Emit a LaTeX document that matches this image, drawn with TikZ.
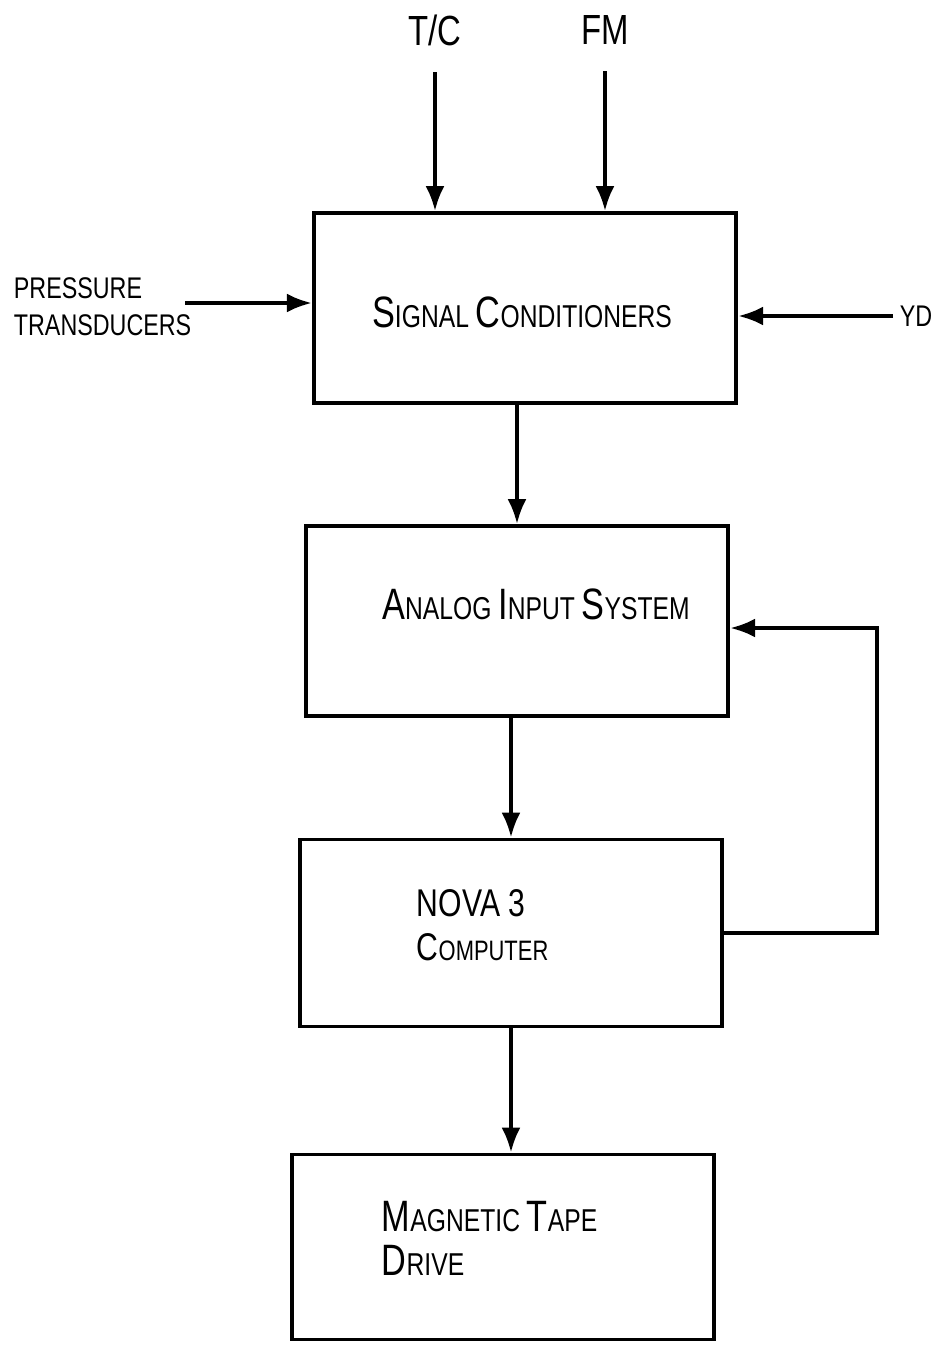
\documentclass[tikz,border=0pt]{standalone}
\usepackage{fontspec}
\setmainfont[FakeStretch=0.78]{Liberation Sans}
\usetikzlibrary{arrows.meta,calc}
\newcommand\bigc[1]{{\fontsize{25}{28}\selectfont #1}}

\begin{document}
\begin{tikzpicture}[
    x=0.02cm, y=-0.02cm,
    line width=2.2pt, >={Latex[length=5mm,width=3.8mm]},
    font=\fontsize{18}{25}\selectfont,
    box/.style={draw, minimum width=8.45cm, minimum height=3.8cm, inner sep=0pt},
    lbl/.style={font=\fontsize{17}{21}\selectfont, inner sep=0pt, align=left},
    flow/.style={->}]
  \useasboundingbox (0,0) rectangle (945,1346);
  % main chain of blocks
  \node[box] (sig) at (525,308) {};
  \node[box] (ais) at (517,621) {};
  \node[box, minimum height=3.74cm] (cpu) at (511,933) {};
  \node[box, minimum height=3.7cm] (tape) at (503,1247) {};
  \node[inner sep=0pt] (sigt) at (522,312) {\bigc{S}IGNAL\ \bigc{C}ONDITIONERS};
  \node[inner sep=0pt] (aist) at (536,604) {\bigc{A}NALOG\ \bigc{I}NPUT\ \bigc{S}YSTEM};
  \node[inner sep=0pt, align=left, anchor=west, font=\fontsize{16}{25}\selectfont] (cput) at (415,925)
    {{\fontsize{22}{25}\selectfont NOVA 3}\\{\fontsize{22}{25}\selectfont C}OMPUTER};
  \node[inner sep=0pt, align=left, anchor=west] (tapet) at (380,1238) {\bigc{M}AGNETIC\ \bigc{T}APE\\\bigc{D}RIVE};
  % inputs
  \node[lbl, font=\fontsize{24}{28}\selectfont] (tc) at (435,30) {T/C};
  \node[lbl, font=\fontsize{24}{28}\selectfont] (fm) at (605,30) {FM};
  \node[lbl, anchor=west] (pt) at (12,307) {PRESSURE\\TRANSDUCERS};
  \node[lbl, anchor=west] (yd) at (898,316) {YD};
  \coordinate (ptend) at (185,303);
  \draw[flow] ([yshift=-0.5cm]tc.south) -- (tc |- sig.north);
  \draw[flow] ([yshift=-0.5cm]fm.south) -- (fm |- sig.north);
  \draw[flow] (ptend) -- (sig.west |- ptend);
  \draw[flow] ([xshift=-0.1cm]yd.west) -- (sig.east |- yd.west);
  % data path
  \draw[flow] (ais.north |- sig.south) -- (ais.north);
  \draw[flow] (cpu.north |- ais.south) -- (cpu.north);
  \draw[flow] (cpu.south) -- (cpu.south |- tape.north);
  % feedback from computer
  \coordinate (fb) at (877,628);
  \draw[flow] (cpu.east) -| (fb) -- (fb -| ais.east);
\end{tikzpicture}
\end{document}
